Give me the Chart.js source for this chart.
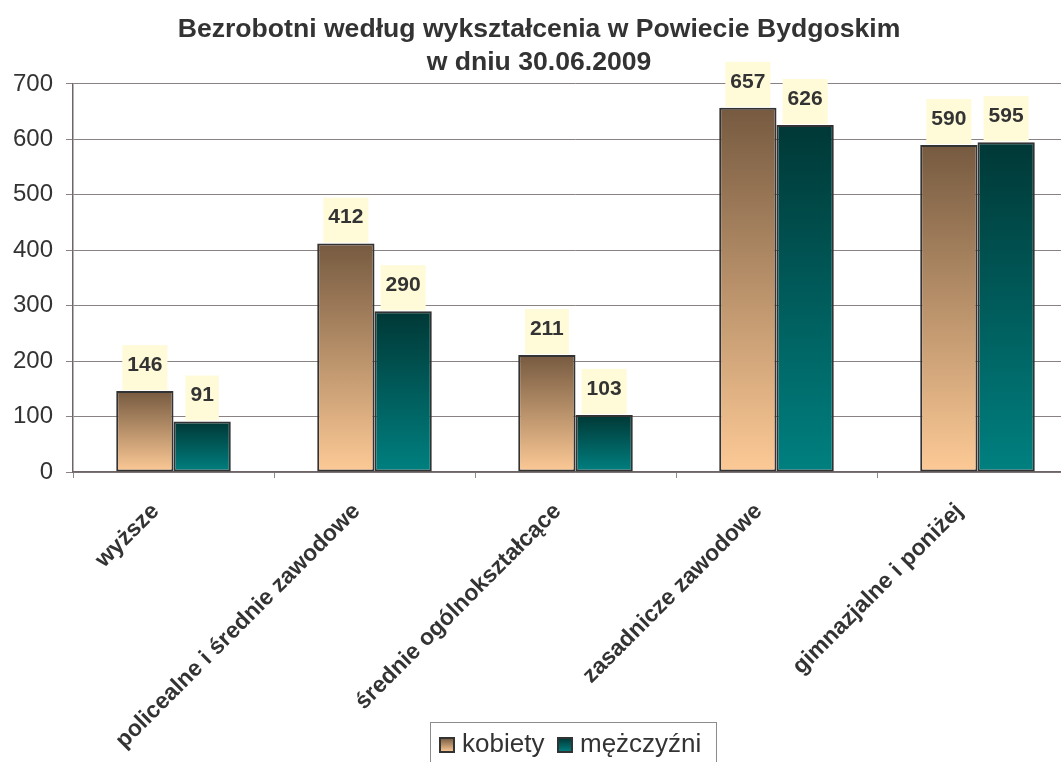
<!DOCTYPE html>
<html>
<head>
<meta charset="utf-8">
<script src="https://cdn.jsdelivr.net/npm/chart.js@4/dist/chart.umd.min.js"></script>
<style>
html,body{margin:0;padding:0;background:#fff;overflow:hidden;}
#wrap{width:1080px;height:762px;}
</style>
</head>
<body>
<div id="wrap"><canvas id="c" width="1080" height="762"></canvas></div>
<script>
const categories = ["wyższe", "policealne i średnie zawodowe", "średnie ogólnokształcące", "zasadnicze zawodowe", "gimnazjalne i poniżej"];
const kobiety = [146, 412, 211, 657, 590];
const mezczyzni = [91, 290, 103, 626, 595];
const seriesNames = ["kobiety", "mężczyźni"];
const titleLines = ["Bezrobotni według wykształcenia w Powiecie Bydgoskim", "w dniu 30.06.2009"];

const FONT = "'Liberation Sans', Arial, sans-serif";
const palettes = [["#765a40", "#fdca96"], ["#003836", "#008080"]];

function barGrad(c, pal) {
  const chart = c.chart;
  if (!chart.chartArea || c.type !== 'data') return pal[1];
  const ys = chart.scales.y;
  const y0 = ys.getPixelForValue(c.raw);
  const y1 = ys.getPixelForValue(0);
  const g = chart.ctx.createLinearGradient(0, y0, 0, y1);
  g.addColorStop(0, pal[0]);
  g.addColorStop(1, pal[1]);
  return g;
}

const labelPlugin = {
  id: 'valueLabels',
  afterDatasetsDraw(chart) {
    const ctx = chart.ctx;
    ctx.save();
    ctx.font = "bold 21px " + FONT;
    ctx.textAlign = 'center';
    ctx.textBaseline = 'middle';
    chart.data.datasets.forEach((ds, di) => {
      const meta = chart.getDatasetMeta(di);
      meta.data.forEach((bar, i) => {
        const txt = String(ds.data[i]);
        const w = ctx.measureText(txt).width + 10;
        const h = 45;
        ctx.fillStyle = '#fffad8';
        ctx.fillRect(bar.x - w / 2, bar.y - h - 1, w, h);
        ctx.fillStyle = '#333333';
        ctx.fillText(txt, bar.x, bar.y - 26);
      });
    });
    ctx.restore();
  }
};

const legendPlugin = {
  id: 'customLegend',
  afterDraw(chart) {
    const ctx = chart.ctx;
    ctx.save();
    ctx.fillStyle = '#ffffff';
    ctx.fillRect(430, 722, 286, 50);
    ctx.strokeStyle = '#8c8c8c';
    ctx.lineWidth = 1;
    ctx.strokeRect(430.5, 722.5, 286, 50);
    const items = [{x: 440, tx: 462}, {x: 558, tx: 580}];
    ctx.font = "26px " + FONT;
    ctx.textBaseline = 'middle';
    ctx.textAlign = 'left';
    items.forEach((it, k) => {
      const g = ctx.createLinearGradient(0, 738, 0, 752);
      g.addColorStop(0, palettes[k][0]);
      g.addColorStop(1, palettes[k][1]);
      ctx.fillStyle = g;
      ctx.fillRect(it.x, 738, 14, 14);
      ctx.strokeStyle = '#333';
      ctx.lineWidth = 2;
      ctx.strokeRect(it.x, 738, 14, 14);
      ctx.fillStyle = '#333333';
      ctx.fillText(seriesNames[k], it.tx, 745);
    });
    ctx.restore();
  }
};

new Chart(document.getElementById('c'), {
  type: 'bar',
  data: {
    labels: categories,
    datasets: [
      {label: seriesNames[0], data: kobiety, backgroundColor: c => barGrad(c, palettes[0]), borderColor: '#333333', borderWidth: 2, borderSkipped: false},
      {label: seriesNames[1], data: mezczyzni, backgroundColor: c => barGrad(c, palettes[1]), borderColor: '#333333', borderWidth: 2, borderSkipped: false}
    ]
  },
  options: {
    responsive: false,
    animation: false,
    layout: {padding: {left: 0, right: 2, top: 0, bottom: 0}},
    datasets: {bar: {categoryPercentage: 0.57, barPercentage: 1.0}},
    plugins: {
      legend: {display: false},
      tooltip: {enabled: false},
      title: {
        display: true,
        text: titleLines,
        color: '#333333',
        font: {family: FONT, size: 26.6, weight: 'bold', lineHeight: 1.24},
        padding: {top: 13, bottom: 5}
      }
    },
    scales: {
      x: {
        grid: {drawOnChartArea: false, color: '#8a8a8a', tickLength: 6, offset: true},
        border: {color: '#6e6666', width: 1.5},
        ticks: {
          color: '#333333',
          font: {family: FONT, size: 23, weight: 'bold'},
          minRotation: 45, maxRotation: 45, autoSkip: false, padding: 20, labelOffset: -18
        },
        afterFit(s) { s.height = 290; }
      },
      y: {
        min: 0, max: 700,
        ticks: {stepSize: 100, color: '#333333', font: {family: FONT, size: 24}, padding: 13},
        grid: {color: '#8a8282', tickLength: 7},
        border: {color: '#6e6666', width: 1.5},
        afterFit(s) { s.width = 73; }
      }
    }
  },
  plugins: [labelPlugin, legendPlugin]
});
</script>
</body>
</html>
